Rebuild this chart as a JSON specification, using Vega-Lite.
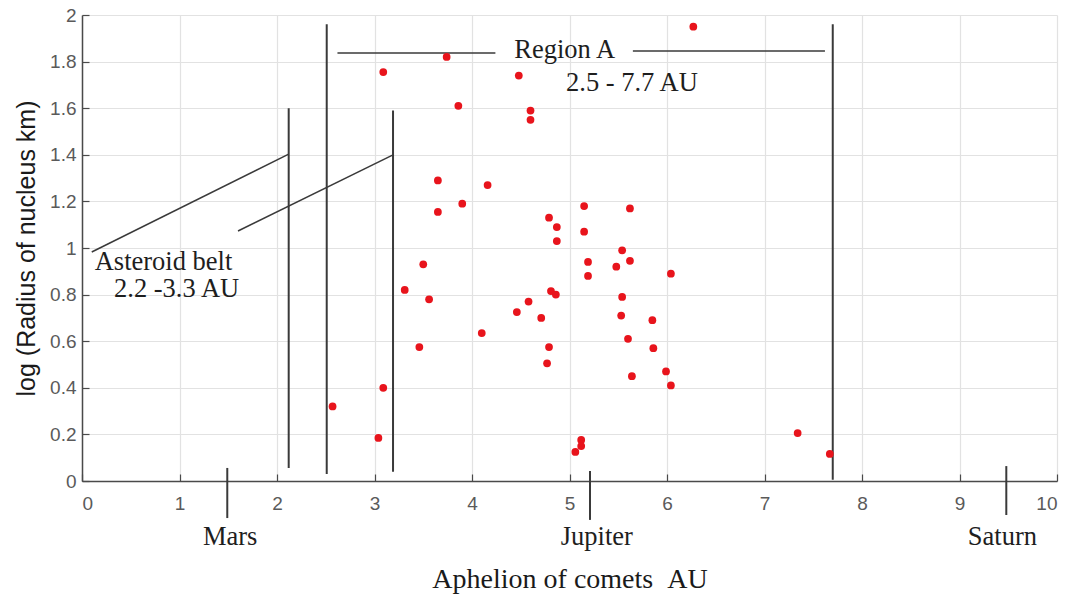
{
  "$schema": "https://vega.github.io/schema/vega-lite/v6.json",
  "autosize": {"type": "none"},
  "width": 975,
  "height": 466,
  "padding": {"left": 82, "top": 15, "right": 15, "bottom": 114},
  "background": "white",
  "config": {
    "view": {"stroke": null},
    "axis": {
      "grid": true,
      "gridColor": "#e2e2e2",
      "gridWidth": 1.2,
      "domainColor": "#4a4a4a",
      "domainWidth": 1.5,
      "tickColor": "#4a4a4a",
      "tickWidth": 1.2,
      "tickSize": -7,
      "labelFont": "Liberation Sans",
      "labelFontSize": 19,
      "labelColor": "#5a5a5a",
      "titleFontWeight": "normal",
      "titleColor": "#1a1a1a"
    }
  },
  "datasets": {
    "comets": [
      {"x": 6.27, "y": 1.95}, {"x": 3.74, "y": 1.82}, {"x": 3.09, "y": 1.755}, {"x": 4.48, "y": 1.74},
      {"x": 3.86, "y": 1.61}, {"x": 4.60, "y": 1.59}, {"x": 4.60, "y": 1.55}, {"x": 3.65, "y": 1.29},
      {"x": 4.16, "y": 1.27}, {"x": 3.90, "y": 1.19}, {"x": 3.65, "y": 1.155}, {"x": 3.50, "y": 0.93},
      {"x": 3.31, "y": 0.82}, {"x": 3.56, "y": 0.78}, {"x": 3.46, "y": 0.575}, {"x": 4.10, "y": 0.635},
      {"x": 3.09, "y": 0.40}, {"x": 2.57, "y": 0.32}, {"x": 3.04, "y": 0.185}, {"x": 5.15, "y": 1.18},
      {"x": 5.62, "y": 1.17}, {"x": 4.79, "y": 1.13}, {"x": 4.87, "y": 1.09}, {"x": 5.15, "y": 1.07},
      {"x": 4.87, "y": 1.03}, {"x": 5.54, "y": 0.99}, {"x": 5.19, "y": 0.94}, {"x": 5.62, "y": 0.945},
      {"x": 5.48, "y": 0.92}, {"x": 5.19, "y": 0.88}, {"x": 6.04, "y": 0.89}, {"x": 4.81, "y": 0.815},
      {"x": 4.86, "y": 0.80}, {"x": 5.54, "y": 0.79}, {"x": 4.58, "y": 0.77}, {"x": 4.46, "y": 0.725},
      {"x": 4.71, "y": 0.70}, {"x": 5.53, "y": 0.71}, {"x": 5.85, "y": 0.69}, {"x": 4.79, "y": 0.575},
      {"x": 5.60, "y": 0.61}, {"x": 5.86, "y": 0.57}, {"x": 4.77, "y": 0.505}, {"x": 5.64, "y": 0.45},
      {"x": 5.99, "y": 0.47}, {"x": 6.04, "y": 0.41}, {"x": 5.12, "y": 0.176}, {"x": 5.12, "y": 0.15},
      {"x": 5.06, "y": 0.125}, {"x": 7.34, "y": 0.206}, {"x": 7.67, "y": 0.116}
    ],
    "bounds": [
      {"x": 2.12, "y": 0.056, "x2": 2.12, "y2": 1.60},
      {"x": 2.51, "y": 0.03, "x2": 2.51, "y2": 1.96},
      {"x": 3.19, "y": 0.04, "x2": 3.19, "y2": 1.59},
      {"x": 7.70, "y": 0.005, "x2": 7.70, "y2": 1.96}
    ],
    "pointers": [
      {"x": 0.10, "y": 0.983, "x2": 2.12, "y2": 1.403},
      {"x": 1.60, "y": 1.073, "x2": 3.19, "y2": 1.40},
      {"x": 2.62, "y": 1.837, "x2": 4.24, "y2": 1.837},
      {"x": 5.65, "y": 1.845, "x2": 7.62, "y2": 1.845}
    ],
    "planets": [
      {"x": 1.49, "y": 0.056, "x2": 1.49, "y2": -0.159},
      {"x": 5.21, "y": 0.043, "x2": 5.21, "y2": -0.167},
      {"x": 9.48, "y": 0.064, "x2": 9.48, "y2": -0.146}
    ],
    "labels": [
      {"x": 4.95, "y": 1.85, "text": "Region A"},
      {"x": 5.64, "y": 1.71, "text": "2.5 - 7.7 AU"},
      {"x": 0.836, "y": 0.942, "text": "Asteroid belt"},
      {"x": 0.97, "y": 0.822, "text": "2.2 -3.3 AU"},
      {"x": 1.52, "y": -0.24, "text": "Mars"},
      {"x": 5.28, "y": -0.24, "text": "Jupiter"},
      {"x": 9.44, "y": -0.24, "text": "Saturn"}
    ]
  },
  "encoding": {
    "x": {
      "field": "x", "type": "quantitative",
      "scale": {"domain": [0, 10], "nice": false, "zero": false},
      "axis": {
        "values": [0, 1, 2, 3, 4, 5, 6, 7, 8, 9, 10],
        "format": "d",
        "labelPadding": 20,
        "title": "Aphelion of comets\u00a0\u00a0AU",
        "titleFont": "Liberation Serif",
        "titleFontSize": 28,
        "titlePadding": 52
      }
    },
    "y": {
      "field": "y", "type": "quantitative",
      "scale": {"domain": [0, 2], "nice": false, "zero": false},
      "axis": {
        "values": [0, 0.2, 0.4, 0.6, 0.8, 1, 1.2, 1.4, 1.6, 1.8, 2],
        "format": "~g",
        "labelPadding": 13,
        "title": "log (Radius of nucleus km)",
        "titleFont": "Liberation Sans",
        "titleFontSize": 25,
        "titlePadding": 10
      }
    }
  },
  "layer": [
    {
      "data": {"name": "bounds"},
      "mark": {"type": "rule", "color": "#3a3a3a", "strokeWidth": 2},
      "encoding": {"x2": {"field": "x2"}, "y2": {"field": "y2"}}
    },
    {
      "data": {"name": "pointers"},
      "mark": {"type": "rule", "color": "#3a3a3a", "strokeWidth": 1.5},
      "encoding": {"x2": {"field": "x2"}, "y2": {"field": "y2"}}
    },
    {
      "data": {"name": "planets"},
      "mark": {"type": "rule", "color": "#3a3a3a", "strokeWidth": 2},
      "encoding": {"x2": {"field": "x2"}, "y2": {"field": "y2"}}
    },
    {
      "data": {"name": "comets"},
      "mark": {"type": "circle", "color": "#e8141c", "size": 60, "opacity": 1}
    },
    {
      "data": {"name": "labels"},
      "mark": {"type": "text", "font": "Liberation Serif", "fontSize": 26.5, "color": "#1e1e1e", "align": "center", "baseline": "middle"},
      "encoding": {"text": {"field": "text"}}
    }
  ]
}
